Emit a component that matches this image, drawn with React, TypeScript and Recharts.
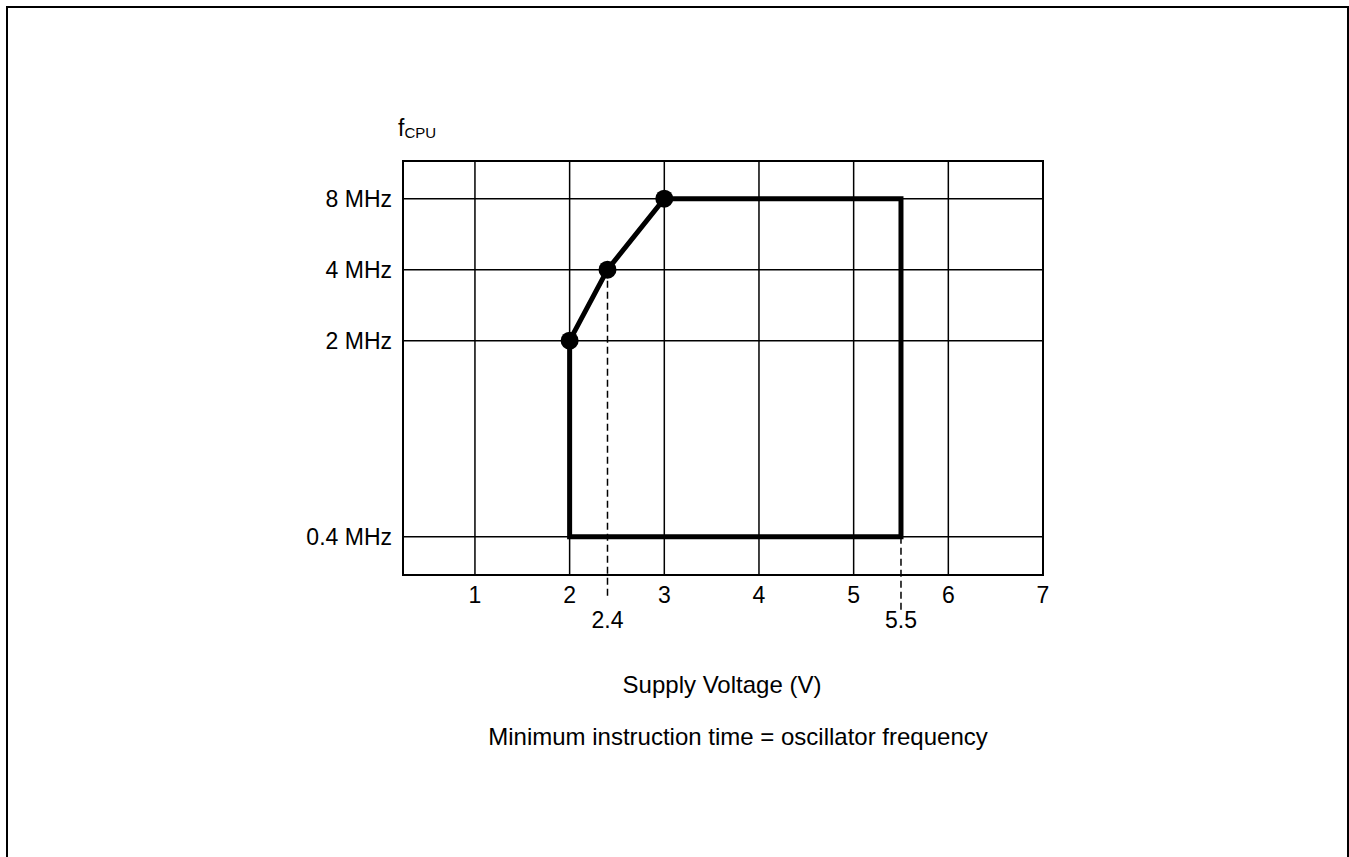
import { ComposedChart, Line, XAxis, YAxis, CartesianGrid, ReferenceLine, ReferenceArea, ReferenceDot } from 'recharts';

// supply voltage axis (V)
const voltTicks = [1, 2, 3, 4, 5, 6, 7];
const markVolts = [2.4, 5.5];
const markLabels = ['2.4', '5.5'];

// frequency axis: the drawing is schematic, so each tick has its own vertical level
const freqValues = [0.4, 2, 4, 8];
const freqLabels = ['0.4 MHz', '2 MHz', '4 MHz', '8 MHz'];
const freqLevels = [0.54, 3.3, 4.3, 5.3];

// operating area outline
const outlineVolts = [2, 2.4, 3, 5.5, 5.5, 2, 2];
const outlineFreqs = [2, 4, 8, 8, 0.4, 0.4, 2];
const outlineMarked = [true, true, true, false, false, false, false];

// where the dashed drop lines start (frequency) and end (level below the axis)
const dropFreqs = [4, 0.4];
const dropEnds = [-0.35, -0.52];

const levelOf = (f: number) => freqLevels[freqValues.indexOf(f)];

const outline = outlineVolts.map((v, i) => ({
  v,
  level: levelOf(outlineFreqs[i]),
  mark: outlineMarked[i],
}));

const FONT = '"Liberation Sans", Arial, Helvetica, sans-serif';
const tickStyle = { fontSize: 23, fill: '#000', fontFamily: FONT };

const Dot = (props: any) => {
  const { cx, cy, payload, index } = props;
  if (!payload.mark) return <g key={index} />;
  return <circle key={index} cx={cx} cy={cy} r={9} fill="#000" stroke="none" />;
};

export default function App() {
  return (
    <div style={{ position: 'fixed', left: 0, top: 0, width: 1349, height: 857, background: '#fff', overflow: 'hidden', fontFamily: FONT }}>
      <div style={{ position: 'absolute', left: 6, top: 6, width: 1339, height: 900, border: '2px solid #000' }} />
      <div style={{ position: 'absolute', left: 0, top: 0 }}>
        <ComposedChart width={1349} height={857} data={outline} margin={{ top: 161, right: 306, bottom: 257, left: 303 }}>
          <CartesianGrid stroke="#000" strokeWidth={1.5} />
          <XAxis
            dataKey="v"
            type="number"
            domain={[0.24, 7]}
            ticks={voltTicks}
            interval={0}
            axisLine={false}
            tickLine={false}
            tickMargin={6}
            height={25}
            tick={tickStyle}
          />
          <YAxis
            type="number"
            domain={[0, 5.83]}
            ticks={freqLevels}
            interval={0}
            width={100}
            axisLine={false}
            tickLine={false}
            tickMargin={5}
            tickFormatter={(val: number) => freqLabels[freqLevels.indexOf(val)]}
            tick={tickStyle}
          />
          <ReferenceArea x1={0.24} x2={7} y1={0} y2={5.83} fill="none" stroke="#000" strokeWidth={2} />
          {markVolts.map((v, i) => (
            <ReferenceLine
              key={'drop' + v}
              segment={[{ x: v, y: levelOf(dropFreqs[i]) }, { x: v, y: dropEnds[i] }]}
              ifOverflow="visible"
              stroke="#000"
              strokeWidth={1.5}
              strokeDasharray="7 4"
            />
          ))}
          {markVolts.map((v, i) => (
            <ReferenceDot
              key={'lbl' + v}
              x={v}
              y={-0.63}
              r={1}
              fill="none"
              stroke="none"
              ifOverflow="visible"
              label={{ value: markLabels[i], position: 'center', fontSize: 23, fill: '#000', fontFamily: FONT }}
            />
          ))}
          <Line
            dataKey="level"
            type="linear"
            stroke="#000"
            strokeWidth={5}
            dot={Dot}
            activeDot={false}
            isAnimationActive={false}
          />
        </ComposedChart>
      </div>
      <div style={{ position: 'absolute', left: 398, top: 117, fontSize: 23, lineHeight: '23px', whiteSpace: 'nowrap' }}>
        f<span style={{ fontSize: 15, position: 'relative', top: 2 }}>CPU</span>
      </div>
      <div style={{ position: 'absolute', left: 722, top: 673, transform: 'translateX(-50%)', fontSize: 24, lineHeight: '24px', whiteSpace: 'nowrap' }}>
        Supply Voltage (V)
      </div>
      <div style={{ position: 'absolute', left: 738, top: 725, transform: 'translateX(-50%)', fontSize: 24, lineHeight: '24px', whiteSpace: 'nowrap' }}>
        Minimum instruction time = oscillator frequency
      </div>
    </div>
  );
}
